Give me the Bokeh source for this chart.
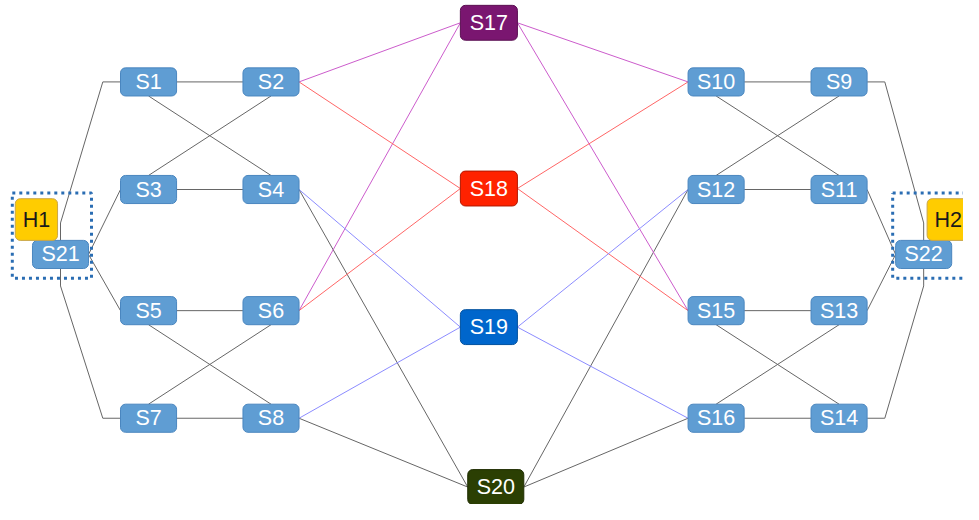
from bokeh.plotting import figure
from bokeh.models import Range1d, ColumnDataSource
from bokeh.core.properties import value
from bokeh.embed import file_html
from bokeh.resources import INLINE

# ---------------- data ----------------
nodes = ["S1", "S2", "S3", "S4", "S5", "S6", "S7", "S8",
         "S9", "S10", "S11", "S12", "S13", "S14", "S15", "S16",
         "S17", "S18", "S19", "S20", "S21", "S22", "H1", "H2"]
node_x = [150.5, 275, 150.5, 275, 150.5, 275, 150.5, 275,
          852.5, 727.5, 852.5, 727.5, 852.5, 852.5, 727.5, 727.5,
          496.5, 496.5, 496.5, 503.5, 61, 938.5, 36.5, 963.5]
node_y = [84, 84, 195, 195, 320, 320, 431, 431,
          84, 84, 195, 195, 320, 431, 320, 431,
          23, 194, 337, 502, 262, 262, 226, 226]
node_kind = ["sw"] * 16 + ["S17", "S18", "S19", "S20", "sw", "sw", "host", "host"]

# edges: (from, side, to, side, group)
edges = [
    ("S1", "r", "S2", "l", "grey"), ("S1", "b", "S4", "t", "grey"),
    ("S2", "b", "S3", "t", "grey"), ("S3", "r", "S4", "l", "grey"),
    ("S5", "r", "S6", "l", "grey"), ("S5", "b", "S8", "t", "grey"),
    ("S6", "b", "S7", "t", "grey"), ("S7", "r", "S8", "l", "grey"),
    ("S4", "r", "S20", "l", "grey"), ("S8", "r", "S20", "l", "grey"),
    ("S20", "r", "S12", "l", "grey"), ("S20", "r", "S16", "l", "grey"),
    ("S10", "r", "S9", "l", "grey"), ("S10", "b", "S11", "t", "grey"),
    ("S9", "b", "S12", "t", "grey"), ("S12", "r", "S11", "l", "grey"),
    ("S15", "r", "S13", "l", "grey"), ("S15", "b", "S14", "t", "grey"),
    ("S13", "b", "S16", "t", "grey"), ("S16", "r", "S14", "l", "grey"),
    ("S3", "l", "S21", "r", "grey"), ("S5", "l", "S21", "r", "grey"),
    ("S11", "r", "S22", "l", "grey"), ("S13", "r", "S22", "l", "grey"),
    ("S2", "r", "S17", "l", "purple"), ("S6", "r", "S17", "l", "purple"),
    ("S17", "r", "S10", "l", "purple"), ("S17", "r", "S15", "l", "purple"),
    ("S2", "r", "S18", "l", "red"), ("S6", "r", "S18", "l", "red"),
    ("S18", "r", "S10", "l", "red"), ("S18", "r", "S15", "l", "red"),
    ("S4", "r", "S19", "l", "blue"), ("S8", "r", "S19", "l", "blue"),
    ("S19", "r", "S12", "l", "blue"), ("S19", "r", "S16", "l", "blue"),
]
# bent edges (with stubs at both ends)
bent_edges = [
    ("S1", "l", "S21", "t", "grey"), ("S7", "l", "S21", "b", "grey"),
    ("S9", "r", "S22", "t", "grey"), ("S14", "r", "S22", "b", "grey"),
]
groups = [("H1", "S21"), ("H2", "S22")]

# ---------------- styles ----------------
kind_style = {
    "sw":   dict(w=57, h=29, fill="#5f9dd3", line="#4a86bf", text="#ffffff"),
    "S17":  dict(w=58, h=36, fill="#7a1670", line="#5a1052", text="#ffffff"),
    "S18":  dict(w=58, h=36, fill="#ff2200", line="#b01800", text="#ffffff"),
    "S19":  dict(w=58, h=36, fill="#0066cc", line="#00509e", text="#ffffff"),
    "S20":  dict(w=57, h=36, fill="#2b3f03", line="#1f2d02", text="#ffffff"),
    "host": dict(w=43, h=43, fill="#ffcc00", line="#c9a64a", text="#1a1a1a"),
}
edge_colors = {"grey": "#666666", "purple": "#cc5ccc", "red": "#ff6666", "blue": "#8c8cff"}
STUB = 18

pos = {n: (x, y, k) for n, x, y, k in zip(nodes, node_x, node_y, node_kind)}


def anchor(n, side):
    x, y, k = pos[n]
    st = kind_style[k]
    if side == "l":
        return (x - st["w"] / 2, y), (-1, 0)
    if side == "r":
        return (x + st["w"] / 2, y), (1, 0)
    if side == "t":
        return (x, y - st["h"] / 2), (0, -1)
    return (x, y + st["h"] / 2), (0, 1)


p = figure(width=963, height=504, output_backend="svg", toolbar_location=None,
           x_range=Range1d(0, 979), y_range=Range1d(520, 0), min_border=0)
p.axis.visible = False
p.grid.visible = False
p.outline_line_color = None
p.background_fill_color = "white"
p.border_fill_color = "white"

xs, ys, cs = [], [], []
for a, sa, b, sb, g in edges:
    (x0, y0), _ = anchor(a, sa)
    (x1, y1), _ = anchor(b, sb)
    xs.append([x0, x1]); ys.append([y0, y1]); cs.append(edge_colors[g])
for a, sa, b, sb, g in bent_edges:
    (x0, y0), (dx0, dy0) = anchor(a, sa)
    (x1, y1), (dx1, dy1) = anchor(b, sb)
    xs.append([x0, x0 + dx0 * STUB, x1 + dx1 * STUB, x1])
    ys.append([y0, y0 + dy0 * STUB, y1 + dy1 * STUB, y1])
    cs.append(edge_colors[g])
p.multi_line(xs=xs, ys=ys, line_color=cs, line_width=1)

# dotted group boxes
for h, s in groups:
    hx, hy, hk = pos[h]
    sx, sy, sk = pos[s]
    hs, ss = kind_style[hk], kind_style[sk]
    left = min(hx - hs["w"] / 2, sx - ss["w"] / 2) - 3
    right = max(hx + hs["w"] / 2, sx + ss["w"] / 2) + 3
    top = min(hy - hs["h"] / 2, sy - ss["h"] / 2) - 6
    bottom = max(hy + hs["h"] / 2, sy + ss["h"] / 2) + 10
    p.line([left, right, right, left, left], [top, top, bottom, bottom, top],
           line_color="#2a6db3", line_width=3, line_dash="3 4")

src = ColumnDataSource(dict(
    x=node_x, y=node_y, name=nodes,
    w=[kind_style[k]["w"] for k in node_kind],
    h=[kind_style[k]["h"] for k in node_kind],
    fill=[kind_style[k]["fill"] for k in node_kind],
    line=[kind_style[k]["line"] for k in node_kind],
    tc=[kind_style[k]["text"] for k in node_kind],
))
p.rect(x="x", y="y", width="w", height="h",
       fill_color="fill", line_color="line", line_width=1, border_radius=5, source=src)
p.text(x="x", y="y", text="name", text_color="tc", text_align="center",
       text_baseline="middle", text_font=value("Liberation Sans"),
       text_font_size="21.5px", source=src)

open("out.html", "w").write(file_html(p, INLINE))
